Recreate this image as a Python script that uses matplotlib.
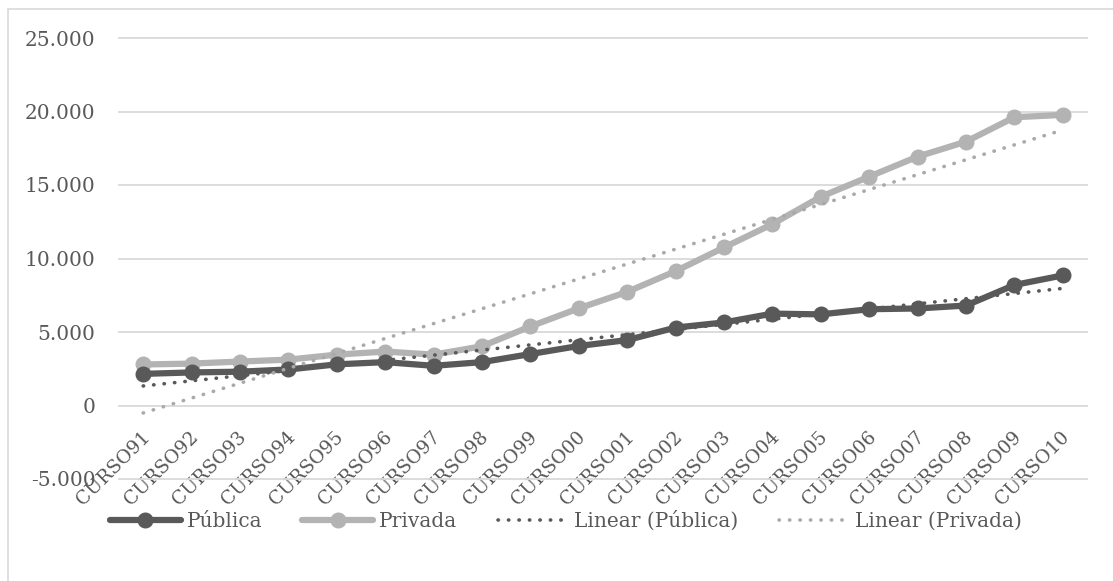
import numpy as np
import matplotlib
matplotlib.use("Agg")
import matplotlib.pyplot as plt
import matplotlib.transforms as mtransforms
from matplotlib.ticker import FuncFormatter, MultipleLocator

# Cursos por ano, rede pública x privada
anos = ["91", "92", "93", "94", "95", "96", "97", "98", "99", "00",
        "01", "02", "03", "04", "05", "06", "07", "08", "09", "10"]
categorias = ["CURSO" + a for a in anos]

publica = [2150, 2250, 2300, 2450, 2800, 2950, 2700, 2950, 3500, 4050,
           4450, 5300, 5650, 6250, 6200, 6550, 6600, 6800, 8200, 8850]
privada = [2790, 2850, 2990, 3120, 3460, 3670, 3460, 4030, 5380, 6610,
           7730, 9140, 10750, 12340, 14200, 15570, 16930, 17950, 19610, 19770]

cor_pub = "#595959"
cor_priv = "#b3b3b3"
cor_texto = "#595959"
cor_grade = "#d9d9d9"

plt.rcParams["font.family"] = ["DejaVu Serif"]
plt.rcParams["font.size"] = 14.5

fig = plt.figure(figsize=(11.13, 5.81), dpi=100)
ax = fig.add_axes([119 / 1113, 1 - 479 / 581, 968 / 1113, 441 / 581])

x = np.arange(len(categorias))

# tendência linear (mínimos quadrados), como no Excel
def tendencia(valores):
    a, b = np.polyfit(x + 1, valores, 1)
    return a * (x + 1) + b

ax.plot(x, publica, color=cor_pub, lw=4.5, marker="o", ms=10.5,
        solid_capstyle="round", label="Pública", zorder=4)
ax.plot(x, privada, color=cor_priv, lw=4.5, marker="o", ms=10.5,
        solid_capstyle="round", label="Privada", zorder=3)
ax.plot(x, tendencia(publica), color=cor_pub, lw=2.6, ls=(0, (0.1, 2.8)),
        dash_capstyle="round", label="Linear (Pública)", zorder=5)
ax.plot(x, tendencia(privada), color="#a9a9a9", lw=2.6, ls=(0, (0.1, 2.8)),
        dash_capstyle="round", label="Linear (Privada)", zorder=5)

ax.set_xlim(-0.5, len(categorias) - 0.5)
ax.set_ylim(-5000, 25000)
ax.yaxis.set_major_locator(MultipleLocator(5000))
ax.yaxis.set_major_formatter(FuncFormatter(lambda v, p: f"{v:,.0f}".replace(",", ".")))
ax.grid(axis="y", color=cor_grade, lw=1.3, clip_on=False)
ax.set_axisbelow(True)

for s in ax.spines.values():
    s.set_visible(False)
# eixo das categorias cruza no zero
ax.spines["bottom"].set_position(("data", 0))

ax.set_xticks(x)
ax.set_xticklabels(categorias, rotation=45, ha="right", va="center",
                   rotation_mode="anchor", color=cor_texto, fontsize=13.5)
ax.tick_params(axis="x", length=0, pad=21)
ax.tick_params(axis="y", length=0, pad=17, colors=cor_texto)

# desloca um pouco os rótulos das categorias para a direita
desloc = mtransforms.ScaledTranslation(4 / 100, 0, fig.dpi_scale_trans)
for lab in ax.get_xticklabels():
    lab.set_transform(lab.get_transform() + desloc)

fig.legend(loc="center", bbox_to_anchor=(566 / 1113, 1 - 521 / 581), ncol=4,
           frameon=False, handlelength=3.5, handletextpad=0.3,
           columnspacing=2.0, labelcolor=cor_texto)

# moldura da área do gráfico
fig.add_artist(plt.Rectangle((8 / 1113, -0.1), 1.2, 1 - 9 / 581 + 0.1,
                             transform=fig.transFigure, fill=False,
                             edgecolor="#d9d9d9", lw=1.2))

fig.savefig("out.png", dpi=100)
